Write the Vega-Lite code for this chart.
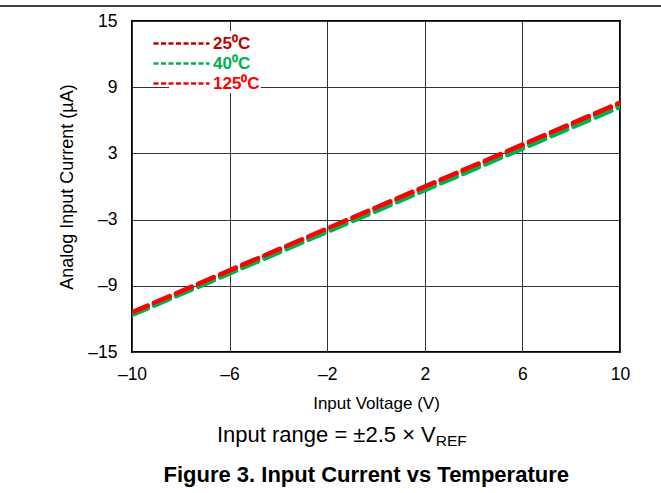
{
  "$schema": "https://vega.github.io/schema/vega-lite/v6.json",
  "width": 488,
  "height": 331,
  "autosize": {"type": "none"},
  "padding": {"left": 132, "top": 21, "right": 41, "bottom": 141},
  "background": "white",
  "config": {
    "view": {"stroke": "#000000", "strokeWidth": 2},
    "font": "Liberation Sans"
  },
  "datasets": {
    "curves": [
      {"v": -10, "i": -11.5, "t": "25⁰C"}, {"v": -8, "i": -9.6, "t": "25⁰C"}, {"v": -6, "i": -7.71, "t": "25⁰C"}, {"v": -4, "i": -5.81, "t": "25⁰C"}, {"v": -2, "i": -3.92, "t": "25⁰C"}, {"v": 0, "i": -2.02, "t": "25⁰C"}, {"v": 2, "i": -0.12, "t": "25⁰C"}, {"v": 4, "i": 1.77, "t": "25⁰C"}, {"v": 6, "i": 3.67, "t": "25⁰C"}, {"v": 8, "i": 5.56, "t": "25⁰C"}, {"v": 10, "i": 7.46, "t": "25⁰C"},
      {"v": -10, "i": -11.65, "t": "40⁰C"}, {"v": -8, "i": -9.77, "t": "40⁰C"}, {"v": -6, "i": -7.88, "t": "40⁰C"}, {"v": -4, "i": -6.0, "t": "40⁰C"}, {"v": -2, "i": -4.11, "t": "40⁰C"}, {"v": 0, "i": -2.23, "t": "40⁰C"}, {"v": 2, "i": -0.34, "t": "40⁰C"}, {"v": 4, "i": 1.55, "t": "40⁰C"}, {"v": 6, "i": 3.43, "t": "40⁰C"}, {"v": 8, "i": 5.32, "t": "40⁰C"}, {"v": 10, "i": 7.2, "t": "40⁰C"},
      {"v": -10, "i": -11.4, "t": "125⁰C"}, {"v": -8, "i": -9.5, "t": "125⁰C"}, {"v": -6, "i": -7.6, "t": "125⁰C"}, {"v": -4, "i": -5.7, "t": "125⁰C"}, {"v": -2, "i": -3.8, "t": "125⁰C"}, {"v": 0, "i": -1.9, "t": "125⁰C"}, {"v": 2, "i": 0.0, "t": "125⁰C"}, {"v": 4, "i": 1.9, "t": "125⁰C"}, {"v": 6, "i": 3.8, "t": "125⁰C"}, {"v": 8, "i": 5.7, "t": "125⁰C"}, {"v": 10, "i": 7.6, "t": "125⁰C"}
    ],
    "notes": [
      {"main": "Input range = ±2.5 × V", "sub": "REF", "caption": "Figure 3. Input Current vs Temperature"}
    ]
  },
  "layer": [
    {
      "data": {"name": "curves"},
      "mark": {"type": "line", "strokeWidth": 4.5, "strokeDash": [17, 7], "strokeCap": "round", "clip": true},
      "encoding": {
        "x": {
          "field": "v", "type": "quantitative",
          "scale": {"domain": [-10, 10], "nice": false, "zero": false},
          "axis": {
            "values": [-10, -6, -2, 2, 6, 10],
            "title": "Input Voltage (V)",
            "titleFont": "Liberation Sans", "titleFontSize": 17, "titleFontWeight": "normal", "titleColor": "#000",
            "titlePadding": 13,
            "labelFont": "Liberation Sans", "labelFontSize": 17.5, "labelColor": "#000", "labelPadding": 13,
            "labelFlush": false,
            "labelExpr": "replace(datum.label, '−', '–')",
            "ticks": false, "domain": false,
            "grid": true, "gridColor": "#333", "gridWidth": 1
          }
        },
        "y": {
          "field": "i", "type": "quantitative",
          "scale": {"domain": [-15, 15], "nice": false, "zero": false},
          "axis": {
            "values": [-15, -9, -3, 3, 9, 15],
            "title": "Analog Input Current (µA)",
            "titleFont": "Liberation Sans", "titleFontSize": 18, "titleFontWeight": "normal", "titleColor": "#000",
            "titlePadding": 11,
            "labelFont": "Liberation Sans", "labelFontSize": 17.5, "labelColor": "#000", "labelPadding": 15,
            "labelFlush": false,
            "labelExpr": "replace(datum.label, '−', '–')",
            "ticks": false, "domain": false,
            "grid": true, "gridColor": "#333", "gridWidth": 1
          }
        },
        "color": {
          "field": "t", "type": "nominal",
          "sort": ["25⁰C", "40⁰C", "125⁰C"],
          "scale": {"domain": ["25⁰C", "40⁰C", "125⁰C"], "range": ["#C00000", "#00B050", "#FF0000"]},
          "legend": {
            "title": null,
            "orient": "none", "legendX": 37, "legendY": 10,
            "fillColor": "white", "padding": 1,
            "symbolType": "M-2.8,0H2.8", "symbolSize": 400, "symbolStrokeWidth": 2.5, "symbolDash": [5, 2.5],
            "labelFont": "Liberation Sans", "labelFontSize": 17, "labelFontWeight": "bold", "labelOffset": 20,
            "rowPadding": 0,
            "encode": {"labels": {"update": {"fill": {"scale": "color", "field": "value"}}}}
          }
        }
      }
    },
    {
      "data": {"name": "notes"},
      "mark": {"type": "rule", "stroke": "#000", "strokeWidth": 1.5, "clip": false},
      "encoding": {
        "x": {"datum": -15.6},
        "x2": {"datum": 12},
        "y": {"datum": 16.36}
      }
    },
    {
      "data": {"name": "notes"},
      "mark": {"type": "text", "align": "right", "baseline": "middle", "fontSize": 22, "font": "Liberation Sans", "fill": "#000", "clip": false},
      "encoding": {
        "x": {"datum": 2.45},
        "y": {"datum": -22.5},
        "text": {"field": "main"}
      }
    },
    {
      "data": {"name": "notes"},
      "mark": {"type": "text", "align": "left", "baseline": "middle", "fontSize": 15.5, "font": "Liberation Sans", "fill": "#000", "dy": 6, "clip": false},
      "encoding": {
        "x": {"datum": 2.45},
        "y": {"datum": -22.5},
        "text": {"field": "sub"}
      }
    },
    {
      "data": {"name": "notes"},
      "mark": {"type": "text", "align": "center", "baseline": "middle", "fontSize": 22, "fontWeight": "bold", "font": "Liberation Sans", "fill": "#000", "clip": false},
      "encoding": {
        "x": {"datum": -0.4},
        "y": {"datum": -26.15},
        "text": {"field": "caption"}
      }
    }
  ]
}
